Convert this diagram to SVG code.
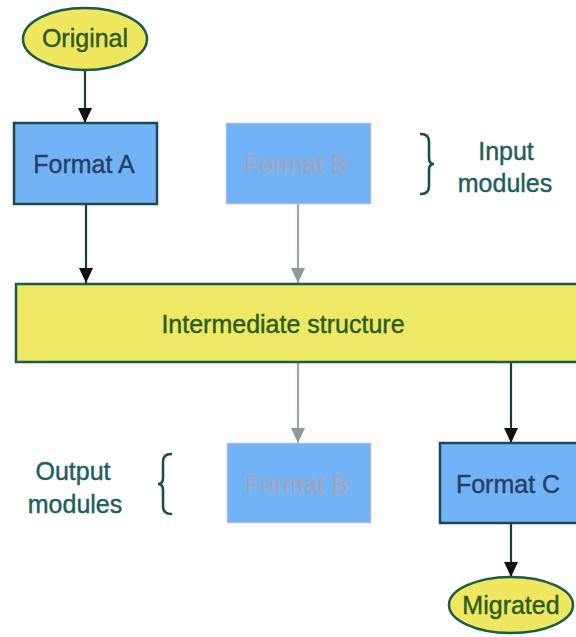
<svg xmlns="http://www.w3.org/2000/svg" width="576" height="637" viewBox="0 0 576 637">
<style>
text{font-family:"Liberation Sans",Arial,sans-serif;font-size:25px;text-anchor:middle;stroke-width:0.4}
.ell{fill:#efe760;stroke:#1d5a48;stroke-width:2.5}
.box{fill:#72b3f7;stroke:#1c4a4a;stroke-width:2.5}
.ghost{fill:#72b3f7;stroke:#f0c8c8;stroke-width:0.8}
.mid{fill:#ede964;stroke:#1d5a48;stroke-width:2.5}
.dark{stroke:#173c3c;stroke-width:2.2;fill:none}
.grey{stroke:#9aa8a8;stroke-width:2.2;fill:none}
.tgreen{fill:#2c5a22;stroke:#2c5a22}
.tblue{fill:#263f66;stroke:#263f66}
.tgrey{fill:#a8a2b0;stroke:none}
.tteal{fill:#1c5e5c;stroke:#1c5e5c}
.brace{fill:none;stroke:#1c4e4c;stroke-width:2.6;stroke-linecap:round}
</style>
<defs>
<marker id="ah" markerUnits="userSpaceOnUse" markerWidth="16" markerHeight="16" viewBox="0 0 16 16" refX="15" refY="8" orient="auto">
<path d="M0,1 L15,8 L0,15 Z" fill="#111"/>
</marker>
<marker id="ahg" markerUnits="userSpaceOnUse" markerWidth="16" markerHeight="16" viewBox="0 0 16 16" refX="15" refY="8" orient="auto">
<path d="M0,1 L15,8 L0,15 Z" fill="#8c9a9a"/>
</marker>
</defs>
<g id="connectors">
<path class="dark" d="M85,70 V123" marker-end="url(#ah)"/>
<path class="dark" d="M86,204 V283" marker-end="url(#ah)"/>
<path class="grey" d="M298,204 V283" marker-end="url(#ahg)"/>
<path class="grey" d="M298,362 V443" marker-end="url(#ahg)"/>
<path class="dark" d="M511,362 V443" marker-end="url(#ah)"/>
<path class="dark" d="M511,523 V577" marker-end="url(#ah)"/>
</g>
<g id="original">
<ellipse class="ell" cx="85" cy="39" rx="62" ry="31"/>
<text class="tgreen" x="85" y="47">Original</text>
</g>
<g id="formatA">
<rect class="box" x="14" y="123" width="143" height="81"/>
<text class="tblue" x="84" y="173">Format A</text>
</g>
<g id="formatB-in">
<rect class="ghost" x="226" y="123" width="145" height="81"/>
<text class="tgrey" x="296" y="173">Format B</text>
</g>
<g id="input-label">
<path class="brace" d="M421,134 Q429,134 429,142 V158 Q429,164 434,164 Q429,164 429,170 V186 Q429,194 421,194"/>
<text class="tteal" x="506" y="160">Input</text>
<text class="tteal" x="505" y="192">modules</text>
</g>
<g id="intermediate">
<rect class="mid" x="16" y="284" width="572" height="78"/>
<text class="tgreen" x="283" y="333">Intermediate structure</text>
</g>
<g id="output-label">
<text class="tteal" x="73" y="480">Output</text>
<text class="tteal" x="75" y="513">modules</text>
<path class="brace" d="M171,454 Q163,454 163,462 V478 Q163,484 158,484 Q163,484 163,490 V506 Q163,514 171,514"/>
</g>
<g id="formatB-out">
<rect class="ghost" x="227" y="443" width="144" height="80"/>
<text class="tgrey" x="297" y="493">Format B</text>
</g>
<g id="formatC">
<rect class="box" x="440" y="443" width="146" height="80"/>
<text class="tblue" x="508" y="493">Format C</text>
</g>
<g id="migrated">
<ellipse class="ell" cx="511" cy="605" rx="62" ry="28"/>
<text class="tgreen" x="511" y="614">Migrated</text>
</g>
</svg>
